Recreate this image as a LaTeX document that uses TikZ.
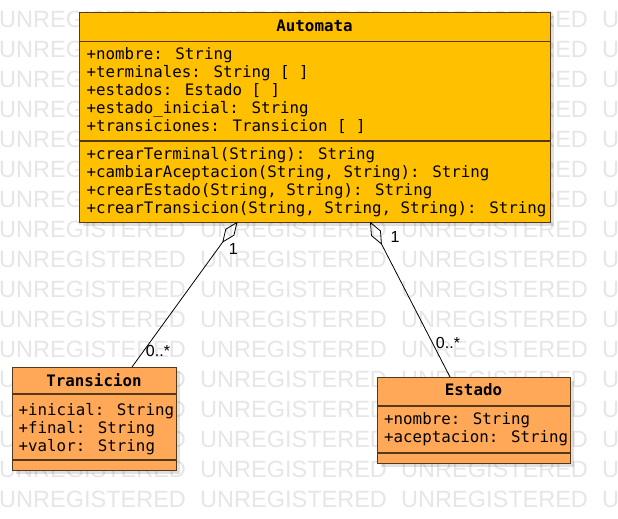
\documentclass[tikz,border=0pt]{standalone}
\usepackage{fontspec}
\newfontfamily\umlfont{DejaVu Sans Mono}
\newfontfamily\markfont{Liberation Sans}
\usetikzlibrary{arrows.meta,shadows}
\definecolor{autofill}{RGB}{255,192,0}
\definecolor{classfill}{RGB}{255,168,88}
\definecolor{classline}{RGB}{85,55,25}
\definecolor{wmgray}{RGB}{230,230,230}
\begin{document}
\begin{tikzpicture}[x=1pt,y=-1pt,
  wmark/.style={anchor=base west,inner sep=0pt,text=wmgray,font=\markfont\fontsize{23.5}{24}\selectfont},
  classbox/.style={draw=classline,line width=1.2pt,anchor=north west,inner sep=0pt,
    drop shadow={shadow xshift=3pt,shadow yshift=-3pt,opacity=0.12,fill=black}},
  sep/.style={draw=classline,line width=1.2pt},
  title/.style={anchor=base,inner sep=0pt,font=\umlfont\bfseries\fontsize{15.8}{18}\selectfont},
  attr/.style={anchor=base west,inner sep=0pt,font=\umlfont\fontsize{15.8}{18}\selectfont},
  mult/.style={inner sep=0pt,font=\markfont\fontsize{16}{16}\selectfont},
  aggr/.style={{Diamond[open,length=26pt,width=11pt]}-,line width=0.8pt}]
\useasboundingbox[fill=white] (0,0) rectangle (618,519);
% watermark
\foreach \r in {0,...,16}
  \foreach \c in {0,...,3}
    \node[wmark] (wm\r-\c) at (201*\c-1,27.5+30*\r) {UNREGISTERED};
% classes
\node[classbox,fill=autofill,minimum width=471,minimum height=210] (automata) at (79,12) {};
\draw[sep] (79,41.7) -- (550,41.7);
\draw[sep] (79,141) -- (550,141);
\node[title] (automataT) at (314.5,31.7) {Automata};
\node[attr] (a1) at (86.5,59.5) {+nombre: String};
\node[attr] (a2) at (86.5,77.5) {+terminales: String [ ]};
\node[attr] (a3) at (86.5,95.5) {+estados: Estado [ ]};
\node[attr] (a4) at (86.5,113.5) {+estado\_inicial: String};
\node[attr] (a5) at (86.5,131.5) {+transiciones: Transicion [ ]};
\node[attr] (m1) at (86.5,159.5) {+crearTerminal(String): String};
\node[attr] (m2) at (86.5,177.5) {+cambiarAceptacion(String, String): String};
\node[attr] (m3) at (86.5,195.5) {+crearEstado(String, String): String};
\node[attr] (m4) at (86.5,213.5) {+crearTransicion(String, String, String): String};

\node[classbox,fill=classfill,minimum width=164,minimum height=103] (transicion) at (12,367) {};
\draw[sep] (12,394) -- (176,394);
\draw[sep] (12,460) -- (176,460);
\node[title] (transicionT) at (94,386.7) {Transicion};
\node[attr] (t1) at (18.5,415) {+inicial: String};
\node[attr] (t2) at (18.5,433) {+final: String};
\node[attr] (t3) at (18.5,451) {+valor: String};

\node[classbox,fill=classfill,minimum width=193,minimum height=86] (estado) at (377,377) {};
\draw[sep] (377,406) -- (570,406);
\draw[sep] (377,453) -- (570,453);
\node[title] (estadoT) at (473.5,395.7) {Estado};
\node[attr] (e1) at (384,424.3) {+nombre: String};
\node[attr] (e2) at (384,442) {+aceptacion: String};

% aggregations
\coordinate (autoL) at (237.5,221.7);
\coordinate (autoR) at (370,221.7);
\coordinate (transTop) at (132,367);
\coordinate (estTop) at (450,377);
\draw[aggr] (autoL) -- (transTop);
\draw[aggr] (autoR) -- (estTop);
\node[mult] (multAL) at (233.3,249.3) {1};
\node[mult] (multAR) at (395,237.3) {1};
\node[mult] (multT) at (158,351) {0..*};
\node[mult] (multE) at (448,343) {0..*};
\end{tikzpicture}
\end{document}
